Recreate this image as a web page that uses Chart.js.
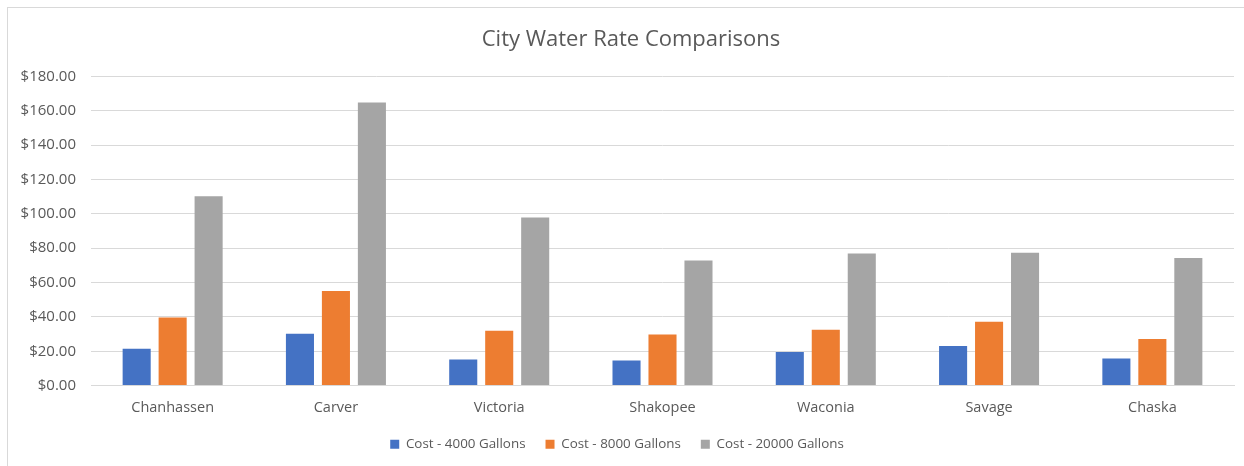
<!DOCTYPE html>
<html>
<head>
<meta charset="utf-8">
<script src="https://cdn.jsdelivr.net/npm/chart.js@4"></script>
<style>
    body { margin: 0; background: #fff; }
    #frame {
        position: absolute; left: 7px; top: 7px; width: 1300px; height: 500px;
        border-left: 1px solid #d9d9d9; border-top: 1px solid #d9d9d9;
    }
    #waterChart { position: absolute; left: 0; top: 0; }
</style>
</head>
<body>
<div id="frame"></div>
<canvas id="waterChart" width="1244" height="466"></canvas>
<script>

const cities = ["Chanhassen", "Carver", "Victoria", "Shakopee", "Waconia", "Savage", "Chaska"];
const cost4000 = [21.4, 30.2, 15.2, 14.6, 19.5, 23.0, 15.8];
const cost8000 = [39.7, 55.1, 31.9, 29.8, 32.5, 37.2, 27.2];
const cost20000 = [110.3, 164.8, 97.9, 72.8, 76.9, 77.4, 74.3];
const yTicks = [0, 20, 40, 60, 80, 100, 120, 140, 160, 180];

document.addEventListener("DOMContentLoaded", () => {

    const textColor = "#595959";
    const gridColor = "#d9d9d9";

    // title sits a bit right of the canvas centre in the original
    const shiftTitle = {
        id: "shiftTitle",
        afterLayout: chart => { chart.titleBlock.left += 28; }
    };

    new Chart(document.getElementById("waterChart"), {
        type: "bar",
        data: {
            labels: cities,
            datasets: [{
                label: "Cost - 4000 Gallons",
                data: cost4000,
                backgroundColor: "#4472c4"
            }, {
                label: "Cost - 8000 Gallons",
                data: cost8000,
                backgroundColor: "#ed7d31"
            }, {
                label: "Cost - 20000 Gallons",
                data: cost20000,
                backgroundColor: "#a5a5a5"
            }]
        },
        plugins: [shiftTitle],
        options: {
            responsive: false,
            animation: false,
            datasets: {
                bar: {
                    categoryPercentage: 0.661,
                    barPercentage: 0.78
                }
            },
            layout: {
                padding: { left: 0, right: 10, top: 0, bottom: 5 }
            },
            plugins: {
                title: {
                    display: true,
                    text: "City Water Rate Comparisons",
                    color: textColor,
                    font: { family: "Open Sans", size: 22, weight: "normal" },
                    padding: { top: 27, bottom: 23 }
                },
                legend: {
                    position: "bottom",
                    labels: {
                        color: textColor,
                        font: { family: "Open Sans", size: 13.4 },
                        boxWidth: 9,
                        boxHeight: 9,
                        padding: 20
                    }
                },
                tooltip: { enabled: false }
            },
            scales: {
                x: {
                    afterFit: scale => { scale.height = 32; },
                    grid: { display: false, drawTicks: false },
                    border: { color: gridColor },
                    ticks: {
                        color: textColor,
                        font: { family: "Open Sans", size: 14.5 },
                        padding: 14
                    }
                },
                y: {
                    min: 0,
                    max: 180,
                    afterFit: scale => { scale.width = 91; },
                    afterBuildTicks: scale => {
                        scale.ticks = yTicks.map(v => ({ value: v }));
                    },
                    grid: { color: gridColor, drawTicks: false },
                    border: { display: false },
                    ticks: {
                        color: textColor,
                        font: { family: "Open Sans", size: 15 },
                        padding: 15,
                        callback: v => "$" + Number(v).toFixed(2)
                    }
                }
            }
        }
    });

});
</script>
</body>
</html>
